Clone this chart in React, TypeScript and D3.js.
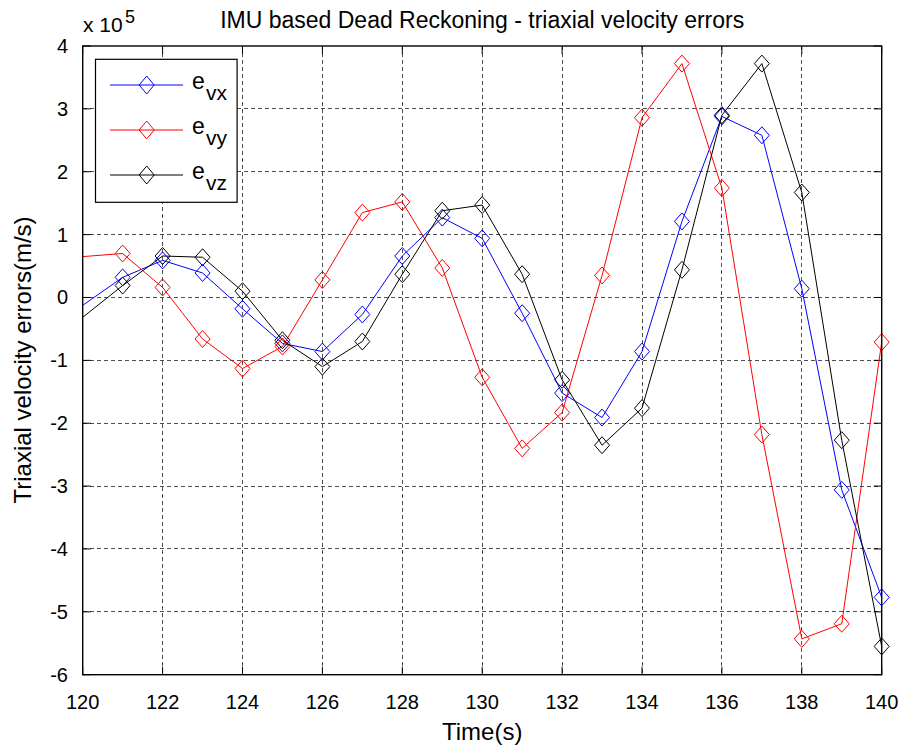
import React from "react";
import * as d3 from "d3";

const timeSteps = [119, 121, 122, 123, 124, 125, 126, 127, 128, 129, 130, 131, 132, 133, 134, 135, 136, 137, 138, 139, 140];
const evx = [-0.57, 0.32, 0.59, 0.39, -0.18, -0.73, -0.86, -0.27, 0.66, 1.27, 0.94, -0.25, -1.52, -1.91, -0.86, 1.21, 2.88, 2.58, 0.14, -3.06, -4.77];
const evy = [0.60, 0.70, 0.16, -0.66, -1.13, -0.78, 0.28, 1.35, 1.52, 0.47, -1.27, -2.40, -1.83, 0.35, 2.86, 3.72, 1.74, -2.18, -5.43, -5.19, -0.71];
const evz = [-0.82, 0.19, 0.66, 0.64, 0.10, -0.68, -1.10, -0.70, 0.37, 1.38, 1.47, 0.37, -1.31, -2.35, -1.76, 0.44, 2.90, 3.72, 1.67, -2.27, -5.55];
const xTicks = [120, 122, 124, 126, 128, 130, 132, 134, 136, 138, 140];
const yTicks = [4, 3, 2, 1, 0, -1, -2, -3, -4, -5, -6];
const seriesNames = ["vx", "vy", "vz"];
const seriesColors = ["#0000ff", "#ff0000", "#000000"];

const W = 900;
const H = 750;
const L = 82.7, R = 881.7, T = 46, B = 674.7;
const font = "'Liberation Sans', Arial, Helvetica, sans-serif";

export default function App() {
  const x = d3.scaleLinear().domain([120, 140]).range([L, R]);
  const y = d3.scaleLinear().domain([-6, 4]).range([B, T]);
  const line = d3
    .line<number>()
    .x((_, i) => x(timeSteps[i]))
    .y((d) => y(d));
  const series = [evx, evy, evz];
  const diamond = (cx: number, cy: number, rx = 7.5, ry = 8.5) =>
    `M${cx},${cy - ry}L${cx + rx},${cy}L${cx},${cy + ry}L${cx - rx},${cy}Z`;
  const tickLen = 8;

  return (
    <svg
      width={W}
      height={H}
      style={{ position: "absolute", left: 0, top: 0, display: "block", background: "#fff" }}
      fontFamily={font}
    >
      <rect x={0} y={0} width={W} height={H} fill="#fff" />
      <defs>
        <clipPath id="plotclip">
          <rect x={L} y={T - 20} width={R - L + 20} height={B - T + 40} />
        </clipPath>
      </defs>
      {/* grid */}
      <g stroke="#222" strokeWidth={0.8} strokeDasharray="4,3" shapeRendering="crispEdges">
        {xTicks.slice(1, -1).map((t) => (
          <line key={"gx" + t} x1={x(t)} x2={x(t)} y1={T} y2={B} />
        ))}
        {yTicks.slice(1, -1).map((t) => (
          <line key={"gy" + t} x1={L} x2={R} y1={y(t)} y2={y(t)} />
        ))}
      </g>
      {/* ticks */}
      <g stroke="#000" strokeWidth={1}>
        {xTicks.map((t) => (
          <g key={"tx" + t}>
            <line x1={x(t)} x2={x(t)} y1={B} y2={B - tickLen} />
            <line x1={x(t)} x2={x(t)} y1={T} y2={T + tickLen} />
          </g>
        ))}
        {yTicks.map((t) => (
          <g key={"ty" + t}>
            <line x1={L} x2={L + tickLen} y1={y(t)} y2={y(t)} />
            <line x1={R} x2={R - tickLen} y1={y(t)} y2={y(t)} />
          </g>
        ))}
      </g>
      {/* series */}
      <g clipPath="url(#plotclip)">
        {series.map((s, si) => (
          <g key={"s" + si}>
            <path d={line(s) || ""} fill="none" stroke={seriesColors[si]} strokeWidth={1} />
            {s.map((v, i) =>
              timeSteps[i] >= 120 ? (
                <path key={i} d={diamond(x(timeSteps[i]), y(v))} fill="none" stroke={seriesColors[si]} strokeWidth={1} />
              ) : null
            )}
          </g>
        ))}
      </g>
      {/* box */}
      <rect x={L} y={T} width={R - L} height={B - T} fill="none" stroke="#000" strokeWidth={1.4} />
      {/* tick labels */}
      <g fontSize={20} fill="#000">
        {xTicks.map((t) => (
          <text key={"lx" + t} x={x(t)} y={709} textAnchor="middle">
            {t}
          </text>
        ))}
        {yTicks.map((t) => (
          <text key={"ly" + t} x={68} y={y(t) + 7} textAnchor="end">
            {t}
          </text>
        ))}
      </g>
      {/* exponent */}
      <text x={83} y={32} fontSize={21} fill="#000">
        x 10
      </text>
      <text x={125} y={23} fontSize={18} fill="#000">
        5
      </text>
      {/* title */}
      <text x={(L + R) / 2} y={28} fontSize={23} textAnchor="middle" fill="#000">
        IMU based Dead Reckoning - triaxial velocity errors
      </text>
      {/* axis labels */}
      <text x={(L + R) / 2} y={740} fontSize={24} textAnchor="middle" fill="#000">
        Time(s)
      </text>
      <text
        transform={`translate(31, 360) rotate(-90)`}
        fontSize={24}
        textAnchor="middle"
        fill="#000"
      >
        Triaxial velocity errors(m/s)
      </text>
      {/* legend */}
      <g>
        <rect x={95.5} y={59.3} width={141.6} height={143} fill="#fff" stroke="#000" strokeWidth={1.2} />
        {seriesNames.map((n, i) => {
          const ly = 85 + i * 45;
          return (
            <g key={"lg" + n}>
              <line x1={110} x2={183} y1={ly} y2={ly} stroke={seriesColors[i]} strokeWidth={1} />
              <path d={diamond(146.7, ly, 7.5, 9)} fill="none" stroke={seriesColors[i]} strokeWidth={1} />
              <text x={192} y={ly + 4} fontSize={23} fill="#000">
                e
              </text>
              <text x={206} y={ly + 15} fontSize={21} fill="#000">
                {n}
              </text>
            </g>
          );
        })}
      </g>
    </svg>
  );
}
